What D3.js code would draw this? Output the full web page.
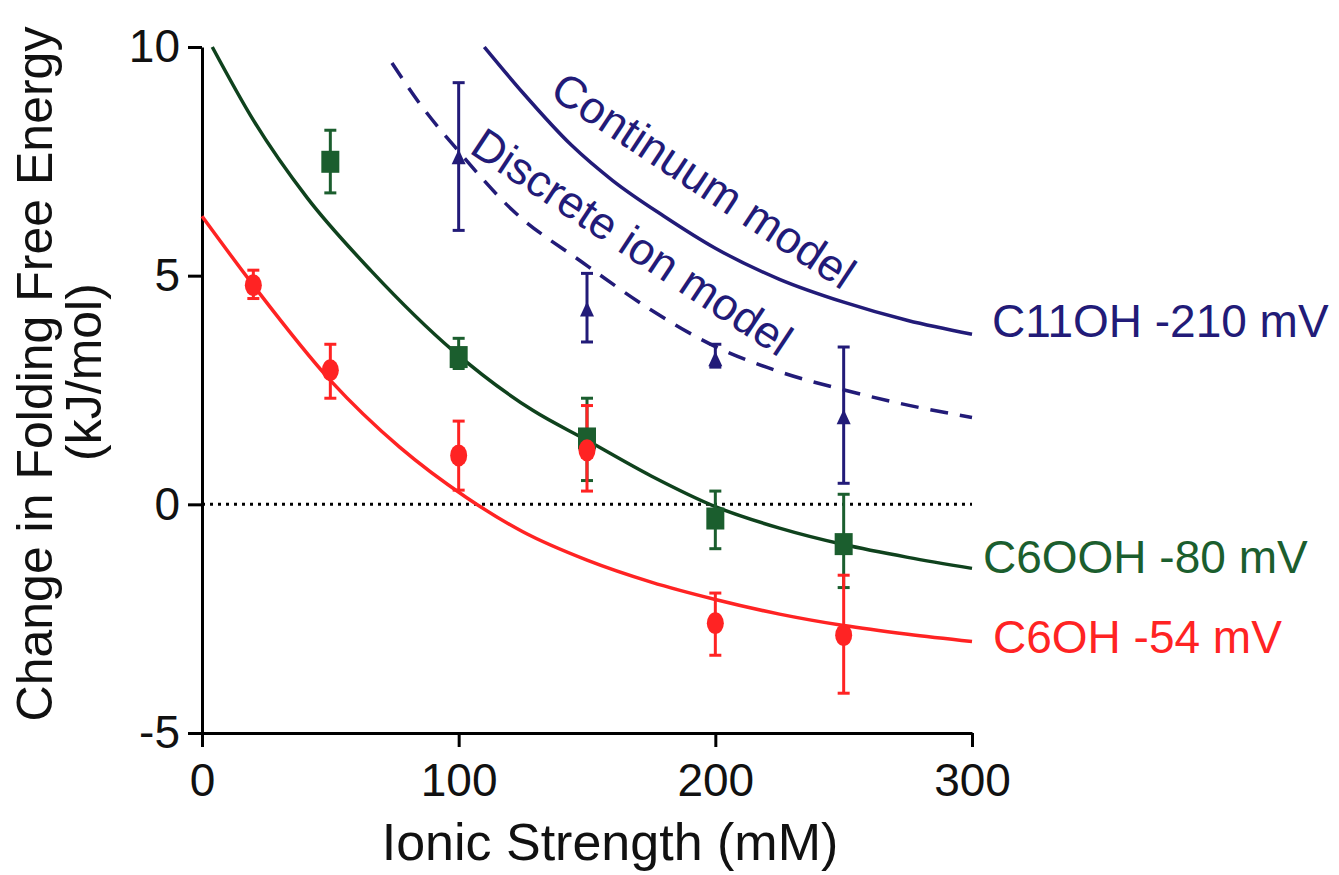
<!DOCTYPE html>
<html>
<head>
<meta charset="utf-8">
<script src="https://cdn.jsdelivr.net/npm/d3@7"></script>
<style>
  html, body { margin: 0; padding: 0; background: #fff; }
  svg { display: block; font-family: "Liberation Sans", Arial, sans-serif; }
</style>
</head>
<body>
<script>
// axis ticks
var xTicks = [0, 100, 200, 300];
var yTicks = [-5, 0, 5, 10];

// C6OH -54 mV (red circles)
var c6ohX =       [20, 50, 100, 150, 200, 250];
var c6ohY =       [4.79, 2.93, 1.07, 1.18, -2.60, -2.86];
var c6ohLow =     [4.50, 2.32, 0.31, 0.29, -3.30, -4.13];
var c6ohHigh =    [5.12, 3.50, 1.82, 2.16, -1.94, -1.55];
var c6ohFitX =    [0, 20, 50, 77, 103, 125, 150, 175, 200, 225, 250, 275, 300];
var c6ohFitY =    [6.30, 4.79, 2.71, 1.25, 0.15, -0.60, -1.22, -1.70, -2.08, -2.40, -2.65, -2.84, -3.00];

// C6OOH -80 mV (green squares)
var c6oohX =      [50, 100, 150, 200, 250];
var c6oohY =      [7.49, 3.22, 1.44, -0.31, -0.87];
var c6oohLow =    [6.81, 2.97, 0.52, -0.97, -1.82];
var c6oohHigh =   [8.18, 3.63, 2.32, 0.29, 0.22];
var c6oohFitX =   [4, 20, 41, 66, 98, 129, 150, 175, 200, 225, 250, 275, 300];
var c6oohFitY =   [10.0, 8.40, 6.70, 5.10, 3.35, 2.05, 1.40, 0.62, -0.05, -0.52, -0.88, -1.16, -1.40];

// C11OH -210 mV (blue triangles) and the two model curves
var c11ohX =      [100, 150, 200, 250];
var c11ohY =      [7.57, 4.24, 3.15, 1.88];
var c11ohLow =    [5.99, 3.55, 3.00, 0.46];
var c11ohHigh =   [9.22, 5.05, 3.50, 3.44];
var continuumX =  [110, 125, 144, 160, 180, 200, 225, 250, 275, 300];
var continuumY =  [10.0, 9.00, 7.85, 7.08, 6.30, 5.60, 4.92, 4.42, 4.02, 3.72];
var discreteX =   [74, 85, 100, 121, 148, 175, 200, 225, 251, 275, 300];
var discreteY =   [9.65, 8.75, 7.72, 6.43, 5.30, 4.25, 3.45, 2.90, 2.49, 2.17, 1.90];

var FoldingChart = function(config) {
    this.setupSettings(config);
    this.createSVG();
    this.createScales();
    this.createAxes();
    this.createZeroLine();
    this.createFits();
    this.createErrorBars();
    this.createMarkers();
    this.createLabels();
}

FoldingChart.prototype.setupSettings = function(config) {
    this.width = config.width;
    this.height = config.height;
    this.plot = { left: 202, right: 972, top: 47, bottom: 733 };
    this.colors = {
        red: '#ff2323',
        green: '#0f421d',
        greenMark: '#1b5e2e',
        blue: '#221b78',
        axis: '#000'
    };
}

FoldingChart.prototype.createSVG = function() {
    this.svg = d3.select('body').append('svg')
        .attr('width', this.width)
        .attr('height', this.height);
}

FoldingChart.prototype.createScales = function() {
    this.x = d3.scaleLinear().domain([0, 300]).range([this.plot.left, this.plot.right]);
    this.y = d3.scaleLinear().domain([-5, 10]).range([this.plot.bottom, this.plot.top]);
}

FoldingChart.prototype.createAxes = function() {
    var obj = this;
    var plain = function(d) { return String(d); };
    var xAxis = d3.axisBottom(this.x).tickValues(xTicks).tickFormat(plain)
        .tickSize(14).tickSizeOuter(0).tickPadding(16);
    var yAxis = d3.axisLeft(this.y).tickValues(yTicks).tickFormat(plain)
        .tickSize(14).tickSizeOuter(0).tickPadding(8);

    var gx = this.svg.append('g')
        .attr('transform', 'translate(0,' + this.plot.bottom + ')')
        .call(xAxis);
    var gy = this.svg.append('g')
        .attr('transform', 'translate(' + this.plot.left + ',0)')
        .call(yAxis);

    [gx, gy].forEach(function(g) {
        g.select('.domain').attr('stroke', obj.colors.axis).attr('stroke-width', 3);
        g.selectAll('.tick line').attr('stroke', obj.colors.axis).attr('stroke-width', 3);
        g.selectAll('.tick text')
            .attr('fill', '#111')
            .style('font-size', '46px')
            .style('font-family', '"Liberation Sans", Arial, sans-serif');
    });

    this.svg.append('text')
        .attr('x', 610).attr('y', 860)
        .attr('text-anchor', 'middle')
        .attr('fill', '#111')
        .style('font-size', '52px')
        .text('Ionic Strength (mM)');

    this.svg.append('text')
        .attr('transform', 'translate(52,374) rotate(-90)')
        .attr('text-anchor', 'middle')
        .attr('fill', '#111')
        .style('font-size', '50px')
        .text('Change in Folding Free Energy');

    this.svg.append('text')
        .attr('transform', 'translate(101,372) rotate(-90)')
        .attr('text-anchor', 'middle')
        .attr('fill', '#111')
        .style('font-size', '50px')
        .text('(kJ/mol)');
}

FoldingChart.prototype.createZeroLine = function() {
    this.svg.append('line')
        .attr('x1', this.x(0)).attr('x2', this.x(300))
        .attr('y1', this.y(0)).attr('y2', this.y(0))
        .attr('stroke', '#000')
        .attr('stroke-width', 3)
        .attr('stroke-dasharray', '3,5');
}

FoldingChart.prototype.zip = function(xs, ys) {
    return xs.map(function(v, i) { return { x: v, y: ys[i] }; });
}

FoldingChart.prototype.createFits = function() {
    var obj = this;
    var line = d3.line()
        .x(function(d) { return obj.x(d.x); })
        .y(function(d) { return obj.y(d.y); })
        .curve(d3.curveMonotoneX);

    var fits = [
        { data: this.zip(c6ohFitX, c6ohFitY), color: this.colors.red, dash: null },
        { data: this.zip(c6oohFitX, c6oohFitY), color: this.colors.green, dash: null },
        { data: this.zip(continuumX, continuumY), color: this.colors.blue, dash: null },
        { data: this.zip(discreteX, discreteY), color: this.colors.blue, dash: '18,12' }
    ];

    this.svg.selectAll('.fit')
        .data(fits)
        .enter()
            .append('path')
            .attr('class', 'fit')
            .attr('fill', 'none')
            .attr('stroke', function(d) { return d.color; })
            .attr('stroke-width', 3.5)
            .attr('stroke-dasharray', function(d) { return d.dash; })
            .attr('d', function(d) { return line(d.data); });
}

FoldingChart.prototype.series = function() {
    return [
        { xs: c11ohX, ys: c11ohY, lo: c11ohLow, hi: c11ohHigh, color: this.colors.blue, shape: 'triangle' },
        { xs: c6oohX, ys: c6oohY, lo: c6oohLow, hi: c6oohHigh, color: this.colors.greenMark, shape: 'square' },
        { xs: c6ohX, ys: c6ohY, lo: c6ohLow, hi: c6ohHigh, color: this.colors.red, shape: 'circle' }
    ];
}

FoldingChart.prototype.createErrorBars = function() {
    var obj = this;
    var cap = 6;
    this.series().forEach(function(s) {
        var rows = s.xs.map(function(v, i) { return { x: v, lo: s.lo[i], hi: s.hi[i] }; });
        var g = obj.svg.append('g')
            .attr('stroke', s.color)
            .attr('stroke-width', 3);
        g.selectAll('.stem').data(rows).enter().append('line')
            .attr('x1', function(d) { return obj.x(d.x); })
            .attr('x2', function(d) { return obj.x(d.x); })
            .attr('y1', function(d) { return obj.y(d.lo); })
            .attr('y2', function(d) { return obj.y(d.hi); });
        g.selectAll('.capHi').data(rows).enter().append('line')
            .attr('x1', function(d) { return obj.x(d.x) - cap; })
            .attr('x2', function(d) { return obj.x(d.x) + cap; })
            .attr('y1', function(d) { return obj.y(d.hi); })
            .attr('y2', function(d) { return obj.y(d.hi); });
        g.selectAll('.capLo').data(rows).enter().append('line')
            .attr('x1', function(d) { return obj.x(d.x) - cap; })
            .attr('x2', function(d) { return obj.x(d.x) + cap; })
            .attr('y1', function(d) { return obj.y(d.lo); })
            .attr('y2', function(d) { return obj.y(d.lo); });
    });
}

FoldingChart.prototype.createMarkers = function() {
    var obj = this;
    this.series().forEach(function(s) {
        var rows = obj.zip(s.xs, s.ys);
        var g = obj.svg.append('g').attr('fill', s.color);
        if (s.shape === 'circle') {
            g.selectAll('ellipse').data(rows).enter().append('ellipse')
                .attr('cx', function(d) { return obj.x(d.x); })
                .attr('cy', function(d) { return obj.y(d.y); })
                .attr('rx', 8.5).attr('ry', 11);
        } else if (s.shape === 'square') {
            g.selectAll('rect').data(rows).enter().append('rect')
                .attr('x', function(d) { return obj.x(d.x) - 9; })
                .attr('y', function(d) { return obj.y(d.y) - 11; })
                .attr('width', 18).attr('height', 22);
        } else {
            g.selectAll('path').data(rows).enter().append('path')
                .attr('d', function(d) {
                    var cx = obj.x(d.x), cy = obj.y(d.y);
                    return 'M' + cx + ',' + (cy - 9) + 'L' + (cx + 7) + ',' + (cy + 6) + 'L' + (cx - 7) + ',' + (cy + 6) + 'Z';
                });
        }
    });
}

FoldingChart.prototype.createLabels = function() {
    var labels = [
        { text: 'C11OH -210 mV', x: 992, y: 337, color: this.colors.blue },
        { text: 'C6OOH -80 mV', x: 983, y: 573, color: this.colors.greenMark },
        { text: 'C6OH -54 mV', x: 993, y: 653, color: this.colors.red }
    ];
    this.svg.selectAll('.seriesLabel')
        .data(labels)
        .enter()
            .append('text')
            .attr('class', 'seriesLabel')
            .attr('x', function(d) { return d.x; })
            .attr('y', function(d) { return d.y; })
            .attr('fill', function(d) { return d.color; })
            .style('font-size', '46px')
            .text(function(d) { return d.text; });

    var models = [
        { text: 'Continuum model', x: 548, y: 96, angle: 33.5 },
        { text: 'Discrete ion model', x: 468, y: 152, angle: 33.5 }
    ];
    this.svg.selectAll('.modelLabel')
        .data(models)
        .enter()
            .append('text')
            .attr('class', 'modelLabel')
            .attr('transform', function(d) { return 'translate(' + d.x + ',' + d.y + ') rotate(' + d.angle + ')'; })
            .attr('fill', this.colors.blue)
            .style('font-size', '45px')
            .text(function(d) { return d.text; });
}

new FoldingChart({ width: 1339, height: 875 });
</script>
</body>
</html>
